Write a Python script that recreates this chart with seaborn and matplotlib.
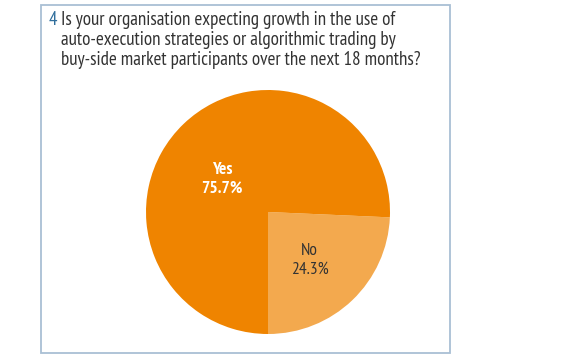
import matplotlib
matplotlib.use("Agg")
import matplotlib.pyplot as plt
import seaborn as sns

categories = ["No", "Yes"]
values = [24.3, 75.7]
label_text = ["No\n24.3%", "Yes\n75.7%"]
title_num = "4"
title_lines = ["Is your organisation expecting growth in the use of",
               "auto-execution strategies or algorithmic trading by",
               "buy-side market participants over the next 18 months?"]

sns.set_theme(style="white")
plt.rcParams['font.family'] = ["PT Sans Narrow", "Fira Sans Condensed", "Roboto Condensed", "DejaVu Sans"]

W, H = 580, 358
fig = plt.figure(figsize=(W / 100, H / 100), dpi=100)

# border box
box = plt.Rectangle((41 / W, 1 - 353 / H), (450 - 41) / W, (353 - 5) / H,
                    transform=fig.transFigure, fill=False, edgecolor="#A9BFD4", linewidth=1.3)
fig.patches.append(box)

# title
fig.text(49 / W, 1 - 25 / H, title_num, color="#2F6E9C", fontsize=13.7, va="baseline")
for i, line in enumerate(title_lines):
    fig.text(61 / W, 1 - (25 + 20 * i) / H, line, color="#333333", fontsize=13.7, va="baseline")

# pie
cx, cy, r = 268, 212, 122
ax = fig.add_axes([(cx - r) / W, 1 - (cy + r) / H, 2 * r / W, 2 * r / H])
colors = ["#F3A94E", "#EF8400"]
ax.pie(values, colors=colors, startangle=-90, counterclock=True,
       wedgeprops=dict(linewidth=0))
ax.set_xlim(-1, 1)
ax.set_ylim(-1, 1)
ax.set_aspect("equal")
ax.axis("off")

ax.text(-0.375, 0.265, label_text[1], ha="center", va="center", color="white",
        fontsize=12.5, fontweight="bold", linespacing=1.2)
ax.text(0.34, -0.395, label_text[0], ha="center", va="center", color="#333333",
        fontsize=12.5, linespacing=1.2)

fig.savefig("out.png", dpi=100)
